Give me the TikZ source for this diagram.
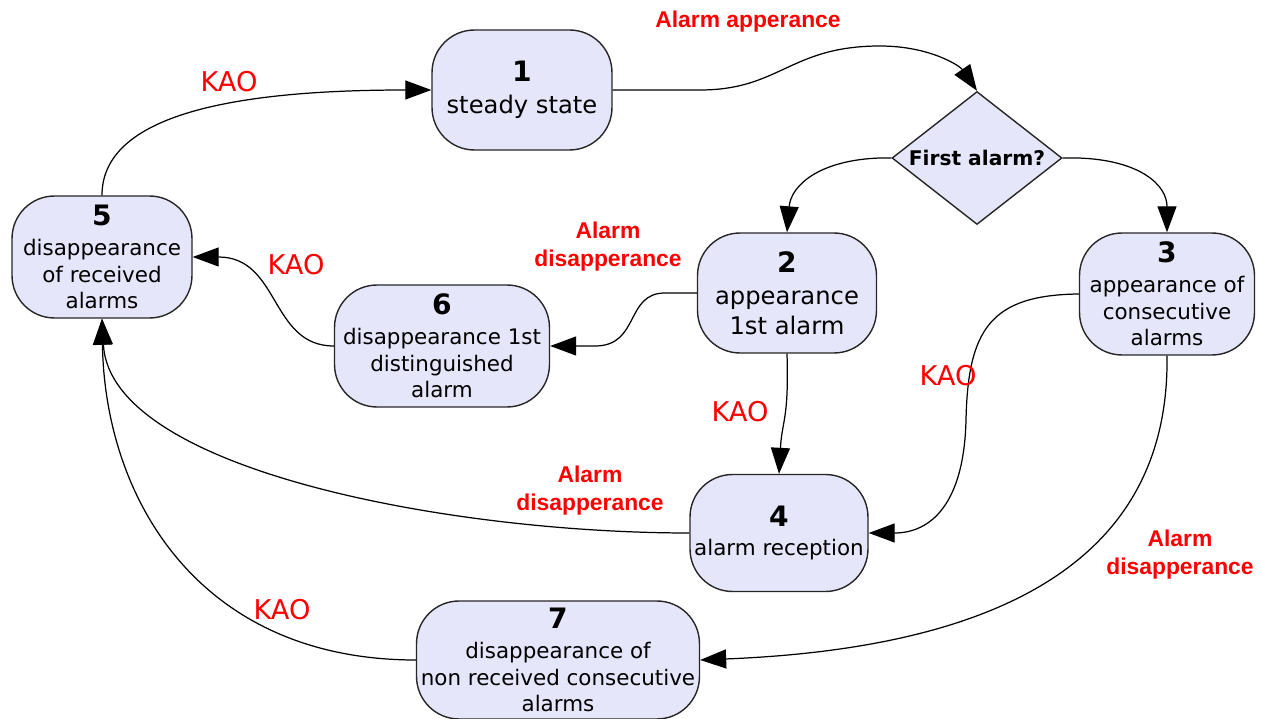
\documentclass[tikz,border=0pt]{standalone}
\usepackage{fontspec}
\newfontfamily\nodefont{DejaVu Sans}
\newfontfamily\lblfont{Liberation Sans}
\usetikzlibrary{shapes.geometric,arrows.meta}
\definecolor{statefill}{RGB}{230,230,250}
\newcommand{\statenum}[1]{{\fontsize{16}{19}\selectfont\bfseries #1}}
\tikzset{
  statebox/.style={draw=black!85, fill=statefill, line width=0.8pt, rounded corners=0.85cm,
    inner sep=0pt, align=center, font=\nodefont\fontsize{12.2}{15}\selectfont},
  bigtext/.style={font=\nodefont\fontsize{13.8}{17}\selectfont},
  decision/.style={diamond, aspect=1.3, draw=black!85, fill=statefill, line width=0.8pt, inner sep=0pt,
    minimum width=3.4cm, minimum height=2.66cm, font=\nodefont\bfseries\fontsize{11.5}{13}\selectfont},
  flow/.style={line width=0.7pt, -{Triangle[length=0.52cm,width=0.38cm]}},
  redlbl/.style={text=red, align=center, font=\lblfont\bfseries\fontsize{13}{16}\selectfont},
  kao/.style={text=red, font=\nodefont\fontsize{15.5}{18}\selectfont}
}
\begin{document}
\begin{tikzpicture}[x=0.02cm,y=-0.02cm]
\useasboundingbox (0,0) rectangle (1262,719);
\node[statebox, bigtext, minimum width=3.6cm, minimum height=2.4cm] (s1) at (522,90) {\statenum{1}\\[1pt]steady state};
\node[decision] (dq) at (977,158) {First alarm?};
\node[statebox, bigtext, minimum width=3.58cm, minimum height=2.4cm] (s2) at (787,293) {\statenum{2}\\[1pt]appearance\\1st alarm};
\node[statebox, minimum width=3.5cm, minimum height=2.44cm] (s3) at (1167,294) {\statenum{3}\\[2pt]appearance of\\consecutive\\alarms};
\node[statebox, minimum width=3.56cm, minimum height=2.34cm] (s4) at (779,533) {\statenum{4}\\[2pt]alarm reception};
\node[statebox, minimum width=3.6cm, minimum height=2.44cm] (s5) at (102,257) {\statenum{5}\\[2pt]disappearance\\of received\\alarms};
\node[statebox, minimum width=4.3cm, minimum height=2.44cm] (s6) at (442,346) {\statenum{6}\\[2pt]disappearance 1st\\distinguished\\alarm};
\node[statebox, minimum width=5.66cm, minimum height=2.36cm] (s7) at (558,660) {\statenum{7}\\[2pt]disappearance of\\non received consecutive\\alarms};

\draw[flow] (s1.east) -- (700,90) .. controls (780,90) and (790,46) .. (880,46) .. controls (930,46) and (960,66) .. (dq.north);
\draw[flow] (dq.west) -- (880,158) .. controls (820,160) and (791,185) .. (s2.north);
\draw[flow] (dq.east) -- (1078,158) .. controls (1140,160) and (1167,185) .. (s3.north);
\draw[flow] (s2.west) -- (665,293) .. controls (625,293) and (640,346) .. (595,346) -- (s6.east);
\draw[flow] (s2.south) .. controls (789,420) and (782,420) .. (s4.north);
\draw[flow] (s3.west) .. controls (990,295) and (968,330) .. (966,420) .. controls (964,505) and (930,533) .. (s4.east);
\draw[flow] (s3.south) .. controls (1170,560) and (1000,648) .. (s7.east);
\draw[flow] (s6.west) .. controls (270,346) and (280,257) .. (s5.east);
\draw[flow] (s4.west) .. controls (450,533) and (110,470) .. (s5.south);
\draw[flow] (s7.west) .. controls (200,660) and (105,500) .. (s5.south);
\draw[flow] (s5.north) .. controls (102,110) and (250,90) .. (s1.west);

\node[redlbl] (la1) at (748,22) {Alarm apperance};
\node[kao] (k1) at (229,82) {KAO};
\node[redlbl] (la2) at (608,247) {Alarm\\disapperance};
\node[kao] (k2) at (296,265) {KAO};
\node[kao] (k3) at (740,412) {KAO};
\node[kao] (k4) at (948,376) {KAO};
\node[redlbl] (la3) at (590,491) {Alarm\\disapperance};
\node[redlbl] (la4) at (1180,555) {Alarm\\disapperance};
\node[kao] (k5) at (282,610) {KAO};
\end{tikzpicture}
\end{document}
